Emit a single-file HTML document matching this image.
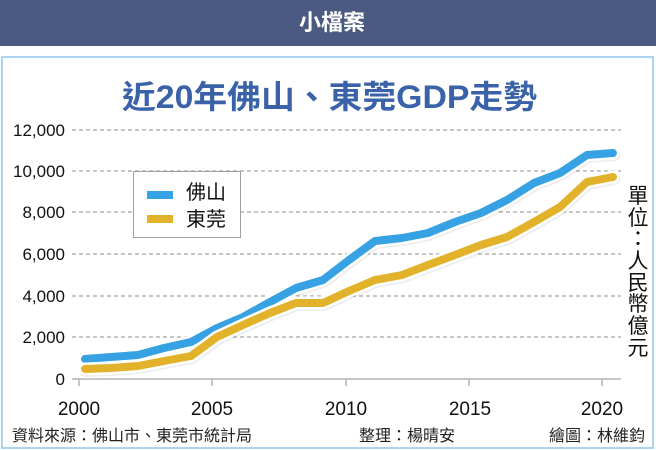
<!DOCTYPE html>
<html><head><meta charset="utf-8"><style>
html,body{margin:0;padding:0;background:#fff;}
svg{display:block;}
text{font-family:"Liberation Sans","Noto Sans CJK TC",sans-serif;}
</style></head><body>
<svg width="656" height="450" viewBox="0 0 656 450" xmlns="http://www.w3.org/2000/svg">
<rect x="0" y="0" width="656" height="450" fill="#fff"/>
<rect x="0" y="0" width="656" height="46" fill="#4b5a81"/>
<text x="332" y="30" font-size="22" font-weight="bold" fill="#fff" text-anchor="middle">小檔案</text>
<rect x="2" y="57" width="651" height="391" fill="#fff" stroke="#acd3ef" stroke-width="2"/>
<text x="329.5" y="108" font-size="32" font-weight="bold" fill="#3a62a8" text-anchor="middle" textLength="415" lengthAdjust="spacingAndGlyphs">近20年佛山、東莞GDP走勢</text>
<g stroke="#b4b4b4" stroke-width="1.5" stroke-dasharray="4,3">
<line x1="72" y1="130" x2="621" y2="130"/>
<line x1="72" y1="171" x2="621" y2="171"/>
<line x1="72" y1="212" x2="621" y2="212"/>
<line x1="72" y1="254" x2="621" y2="254"/>
<line x1="72" y1="296" x2="621" y2="296"/>
<line x1="72" y1="337" x2="621" y2="337"/>
</g>
<line x1="72" y1="379" x2="621" y2="379" stroke="#b4b4b4" stroke-width="1.5"/>
<g stroke="#b4b4b4" stroke-width="1.5">
<line x1="79" y1="379" x2="79" y2="386"/>
<line x1="212" y1="379" x2="212" y2="386"/>
<line x1="346" y1="379" x2="346" y2="386"/>
<line x1="469" y1="379" x2="469" y2="386"/>
<line x1="602" y1="379" x2="602" y2="386"/>
</g>
<g font-size="17" fill="#111" text-anchor="end">
<text x="65" y="136">12,000</text>
<text x="65" y="177">10,000</text>
<text x="65" y="218">8,000</text>
<text x="65" y="260">6,000</text>
<text x="65" y="302">4,000</text>
<text x="65" y="343">2,000</text>
<text x="65" y="385">0</text>
</g>
<g font-size="19" fill="#111" text-anchor="middle">
<text x="79" y="415">2000</text>
<text x="212" y="415">2005</text>
<text x="346" y="415">2010</text>
<text x="470" y="415">2015</text>
<text x="602" y="415">2020</text>
</g>
<g fill="none" stroke-linecap="round" stroke-linejoin="round">
<polyline transform="translate(1,1.5)" stroke="rgba(0,0,0,0.07)" stroke-width="13" points="85,359 111,357 138,355 164,348 191,342 217,328 243,317 270,302 296,288 323,280 349,260 375,241 402,238 428,233 455,222 481,213 507,200 534,183 560,173 587,155 613,153"/>
<polyline stroke="#fff" stroke-width="13" points="85,359 111,357 138,355 164,348 191,342 217,328 243,317 270,302 296,288 323,280 349,260 375,241 402,238 428,233 455,222 481,213 507,200 534,183 560,173 587,155 613,153"/>
<polyline stroke="#36a2e3" stroke-width="8" points="85,359 111,357 138,355 164,348 191,342 217,328 243,317 270,302 296,288 323,280 349,260 375,241 402,238 428,233 455,222 481,213 507,200 534,183 560,173 587,155 613,153"/>
<polyline transform="translate(1,1.5)" stroke="rgba(0,0,0,0.07)" stroke-width="13" points="85,369 111,368 138,366 164,361 191,356 217,337 243,325 270,313 296,303 323,303 349,291 375,280 402,275 428,265 455,255 481,245 507,237 534,222 560,207 587,182 613,177"/>
<polyline stroke="#fff" stroke-width="13" points="85,369 111,368 138,366 164,361 191,356 217,337 243,325 270,313 296,303 323,303 349,291 375,280 402,275 428,265 455,255 481,245 507,237 534,222 560,207 587,182 613,177"/>
<polyline stroke="#e2b32a" stroke-width="8" points="85,369 111,368 138,366 164,361 191,356 217,337 243,325 270,313 296,303 323,303 349,291 375,280 402,275 428,265 455,255 481,245 507,237 534,222 560,207 587,182 613,177"/>
</g>
<rect x="133.5" y="171.5" width="107" height="66" fill="#fff" stroke="#a0a0a0" stroke-width="1"/>
<rect x="147" y="191" width="26" height="8" fill="#36a2e3"/>
<rect x="147" y="215" width="26" height="8" fill="#e2b32a"/>
<g font-size="20" fill="#111">
<text x="186" y="199">佛山</text>
<text x="186" y="226">東莞</text>
</g>
<g font-size="21" fill="#111" text-anchor="middle">
<text x="638" y="203">單</text>
<text x="638" y="225">位</text>
<text x="638" y="246">：</text>
<text x="638" y="268">人</text>
<text x="638" y="290">民</text>
<text x="638" y="311">幣</text>
<text x="638" y="333">億</text>
<text x="638" y="355">元</text>
</g>
<g font-size="16" fill="#222">
<text x="12" y="441">資料來源：佛山市、東莞市統計局</text>
<text x="359" y="441">整理：楊晴安</text>
<text x="549" y="441">繪圖：林維鈞</text>
</g>
</svg>
</body></html>
